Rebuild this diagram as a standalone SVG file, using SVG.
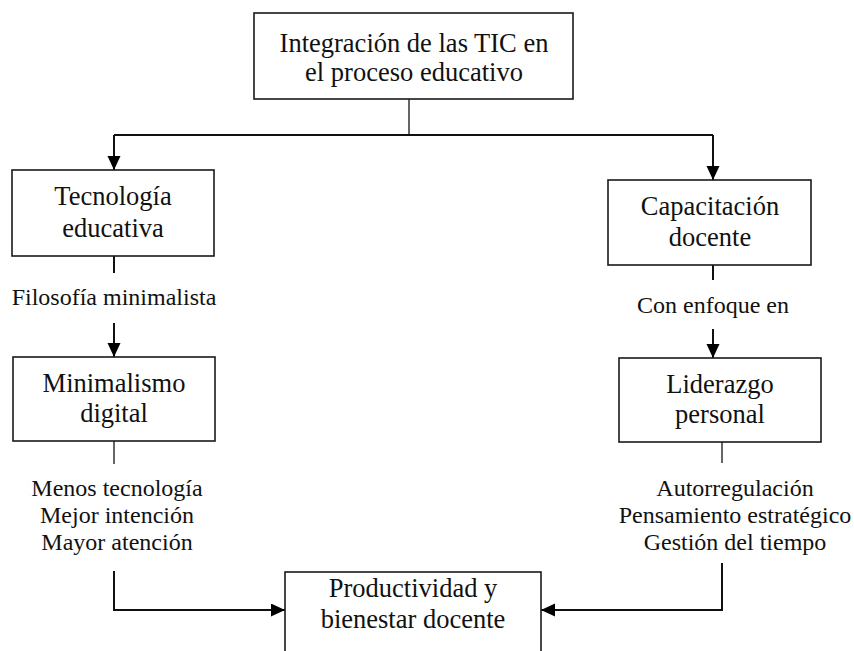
<svg xmlns="http://www.w3.org/2000/svg" width="854" height="651" viewBox="0 0 854 651">
<defs>
<style>
.box{fill:#fff;stroke:#1a1a1a;stroke-width:1.6}
.t{font-family:"Liberation Serif","Times New Roman",serif;font-size:26.5px;fill:#111;text-anchor:middle}
.l{font-family:"Liberation Serif","Times New Roman",serif;font-size:24px;fill:#111;text-anchor:middle}
.c{fill:none;stroke:#111;stroke-width:2}
.thin{fill:none;stroke:#333;stroke-width:1.5}
</style>
<marker id="ah" markerUnits="userSpaceOnUse" markerWidth="14" markerHeight="14" refX="14" refY="6.5" orient="auto">
<path d="M0,0 L14,6.5 L0,13 z" fill="#000"/>
</marker>
</defs>
<rect width="854" height="651" fill="#fff"/>
<g id="connectors">
<path class="thin" d="M409,99 V135"/>
<path class="c" d="M114,135 H713"/>
<path class="c" d="M114,135 V170" marker-end="url(#ah)"/>
<path class="c" d="M713,135 V180" marker-end="url(#ah)"/>
<path class="c" d="M114,256 V273"/>
<path class="c" d="M114,323 V357" marker-end="url(#ah)"/>
<path class="c" d="M713,265 V280"/>
<path class="c" d="M713,329 V358" marker-end="url(#ah)"/>
<path class="thin" d="M114,441 V464"/>
<path class="thin" d="M722,442 V463"/>
<path class="c" d="M114,571 V610 H285" stroke-width="2.5" marker-end="url(#ah)"/>
<path class="c" d="M722,563 V610 H541" stroke-width="2.5" marker-end="url(#ah)"/>
<text class="l" x="114" y="305">Filosofía minimalista</text>
<text class="l" x="713" y="313">Con enfoque en</text>
<text class="l" x="117" y="496">Menos tecnología</text>
<text class="l" x="117" y="523">Mejor intención</text>
<text class="l" x="117" y="550">Mayor atención</text>
<text class="l" x="735" y="496">Autorregulación</text>
<text class="l" x="735" y="523">Pensamiento estratégico</text>
<text class="l" x="735" y="550">Gestión del tiempo</text>
</g>
<g id="n-top">
<rect class="box" x="254" y="13" width="319" height="86"/>
<text class="t" x="414" y="52">Integración de las TIC en</text>
<text class="t" x="414" y="81">el proceso educativo</text>
</g>
<g id="n-tecnologia">
<rect class="box" x="12" y="170" width="202" height="86"/>
<text class="t" x="113" y="205">Tecnología</text>
<text class="t" x="113" y="237">educativa</text>
</g>
<g id="n-capacitacion">
<rect class="box" x="608" y="180" width="203" height="85"/>
<text class="t" x="710" y="215">Capacitación</text>
<text class="t" x="710" y="246">docente</text>
</g>
<g id="n-minimalismo">
<rect class="box" x="13" y="357" width="202" height="84"/>
<text class="t" x="114" y="392">Minimalismo</text>
<text class="t" x="114" y="422">digital</text>
</g>
<g id="n-liderazgo">
<rect class="box" x="619" y="358" width="202" height="84"/>
<text class="t" x="720" y="393">Liderazgo</text>
<text class="t" x="720" y="423">personal</text>
</g>
<g id="n-productividad">
<rect class="box" x="285" y="572" width="256" height="90"/>
<text class="t" x="413" y="597">Productividad y</text>
<text class="t" x="413" y="628">bienestar docente</text>
</g>
</svg>
